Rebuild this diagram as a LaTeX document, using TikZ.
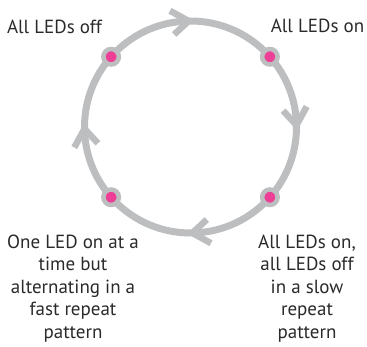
\documentclass[tikz,border=0pt]{standalone}
\usepackage{fontspec}
\setmainfont{PT Sans}
\definecolor{ringgray}{HTML}{BDBEC0}
\definecolor{ledpink}{HTML}{EC3F95}
\definecolor{labelgray}{HTML}{2A2A2A}
\begin{document}
\begin{tikzpicture}[
		declare function={
			rr=106;  % ring radius
			ra=41.5; % angle of the dots
			da=10;   % arrow length (deg)
			aw=12;   % arrow half width
		},
		x=1pt, y=1pt,
		line width=7pt,
		led/.style={circle, fill=ledpink, draw=ringgray, line width=4.5pt, inner sep=0pt, minimum size=15.5pt},
		every node/.style={font=\fontsize{19}{22.5}\selectfont, text=labelgray, align=center}
		]
		
		\useasboundingbox (-190.5,-220) rectangle (176.5,127);
		
		\draw[ringgray] (0,0) circle (rr);
		
		% chevrons, clockwise
		\foreach \a in {90, 0, -90, 180} {
			\draw[ringgray, line width=6.5pt] ({\a+da}:{rr+aw}) -- ({\a+1}:rr) -- ({\a+da}:{rr-aw});
		}
		
		\foreach \a/\n in {ra/on, 180-ra/off, 180+ra/fast, -ra/slow} {
			\node[led] (\n) at ({\a}:rr) {};
		}
		
		\node (offL) at (-136, 100) {All LEDs off};
		\node (onL) at (127, 101) {All LEDs on};
		\node[anchor=north] (fastL) at (-117.5, -101) {One LED on at a\\time but\\alternating in a\\fast repeat\\pattern};
		\node[anchor=north] (slowL) at (116.5, -101) {All LEDs on,\\all LEDs off\\in a slow\\repeat\\pattern};
		
	\end{tikzpicture}
\end{document}
